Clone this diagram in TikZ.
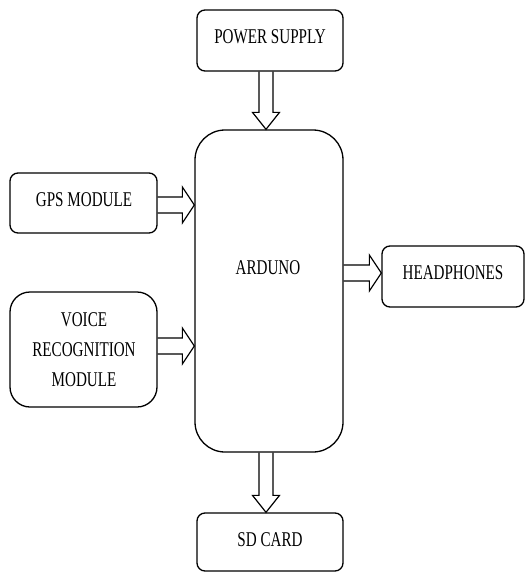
\documentclass[tikz,border=0pt]{standalone}
\usepackage{fontspec}
\setmainfont{Liberation Serif}[FakeStretch=0.72]
\usetikzlibrary{calc}
\newcommand\mydown[3]{%
 \draw[barrow] let \p1=($(#1.south)+(#3,0)$), \p2=(#2.north) in
 (\x1-7pt,\y1) -- (\x1-7pt,\y2+17pt) -- (\x1-13.5pt,\y2+17pt) -- (\x1,\y2)
 -- (\x1+13.5pt,\y2+17pt) -- (\x1+7pt,\y2+17pt) -- (\x1+7pt,\y1);}
\newcommand\myright[3]{%
 \draw[barrow] let \p1=($(#1.east)+(0,#3)$), \p2=(#2.west) in
 (\x1,\y1+8pt) -- (\x2-12pt,\y1+8pt) -- (\x2-12pt,\y1+18pt) -- (\x2,\y1)
 -- (\x2-12pt,\y1-18pt) -- (\x2-12pt,\y1-8pt) -- (\x1,\y1-8pt);}
\begin{document}
\begin{tikzpicture}[x=1pt,y=-1pt,
 blk/.style={draw, line width=1.3pt, rounded corners=8pt, inner sep=0pt},
 lbl/.style={font=\fontsize{21}{30}\selectfont, align=center, inner sep=0pt},
 barrow/.style={draw, line width=1.2pt, line join=miter}]
\useasboundingbox (0,0) rectangle (526,574);
\node[blk, minimum width=146pt, minimum height=61pt] (ps) at (270,40.5) {};
\node[blk, minimum width=148pt, minimum height=322pt, rounded corners=30pt] (ard) at (269,291) {};
\node[blk, minimum width=147pt, minimum height=60pt] (gps) at (83.5,203) {};
\node[blk, minimum width=147pt, minimum height=115pt, rounded corners=20pt] (vr) at (83.5,349.5) {};
\node[blk, minimum width=142pt, minimum height=61pt] (hp) at (453,276.5) {};
\node[blk, minimum width=146pt, minimum height=58pt] (sd) at (270,542) {};
\node[lbl] (pst) at (270,37) {POWER SUPPLY};
\node[lbl] (ardt) at (268,268) {ARDUNO};
\node[lbl] (gpst) at (84,200) {GPS MODULE};
\node[lbl] (vrt) at (84,350) {VOICE\\RECOGNITION\\MODULE};
\node[lbl] (hpt) at (453,273) {HEADPHONES};
\node[lbl] (sdt) at (270,540) {SD CARD};
\mydown{ps}{ard}{-4}
\mydown{ard}{sd}{-3}
\myright{gps}{ard}{2}
\myright{vr}{ard}{-3.5}
\myright{ard}{hp}{-18}
\end{tikzpicture}
\end{document}
